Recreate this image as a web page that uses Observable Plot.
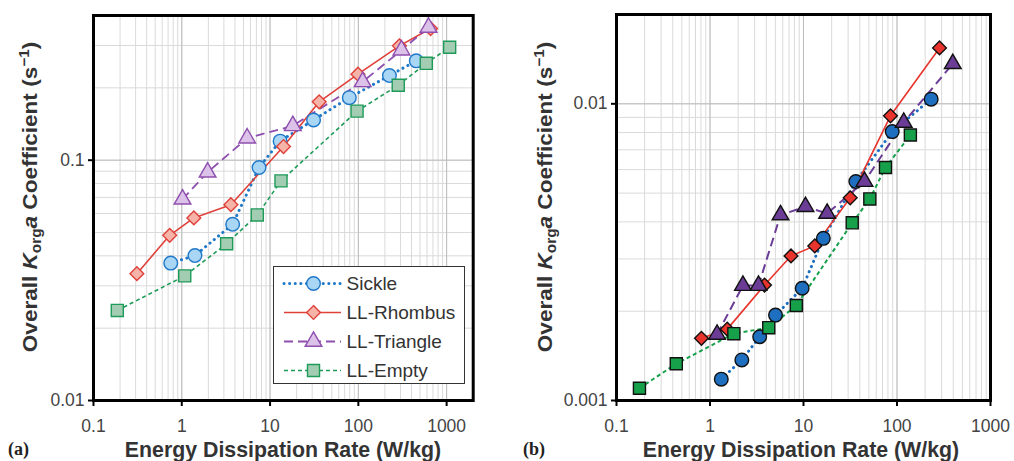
<!DOCTYPE html>
<html><head><meta charset="utf-8">
<script src="https://cdn.jsdelivr.net/npm/d3@7"></script>
<script src="https://cdn.jsdelivr.net/npm/@observablehq/plot@0.6"></script>
<style>
body{margin:0;background:#fff;font-family:"Liberation Sans",Arial,sans-serif;}
#wrap{position:relative;width:1014px;height:461px;overflow:hidden;background:#fff;}
.panel{position:absolute;top:0;}
.ylab{position:absolute;font-weight:bold;font-size:20.5px;color:#333;white-space:nowrap;transform:translate(-50%,-50%) rotate(-90deg) scale(1.1,1);line-height:1;}
.ylab sub{font-size:0.68em;vertical-align:-0.3em;line-height:0;}
.ylab sup{font-size:0.68em;vertical-align:0.55em;line-height:0;}
.xlab{position:absolute;font-weight:bold;font-size:20.5px;color:#333;white-space:nowrap;transform:translate(-50%,-50%) scale(1.04,1.05);line-height:1;}
.plab{position:absolute;font-family:"Liberation Serif","Times New Roman",serif;font-weight:bold;font-size:18px;color:#222;transform:translate(0,-50%);line-height:1;}
#legend{position:absolute;left:273px;top:266px;width:190px;height:116px;border:1.5px solid #333;background:#fff;}
</style>
</head><body>
<div id="wrap"></div>
<script>
// ---------- data ----------
const seriesNames = ["Sickle","LL-Rhombus","LL-Triangle","LL-Empty"];
const xTicks = [0.1,1,10,100,1000];
const aYTicks = [0.01,0.1];
const bYTicks = [0.001,0.01];
// Panel (a)
const aSickleX   = [0.75,1.41,3.77,7.5,13.0,31.1,79,225,453];
const aSickleY   = [0.0373,0.0401,0.0541,0.0932,0.120,0.147,0.182,0.225,0.259];
const aRhombusX  = [0.31,0.73,1.37,3.6,14.2,36,99,292,658];
const aRhombusY  = [0.0337,0.0487,0.0575,0.0653,0.114,0.175,0.228,0.299,0.353];
const aTriangleX = [1.02,1.96,5.5,18.1,112,308,624];
const aTriangleY = [0.0688,0.0891,0.1235,0.139,0.212,0.287,0.357];
const aEmptyX    = [0.186,1.08,3.22,7.17,13.3,96.7,283,588,1082];
const aEmptyY    = [0.0237,0.033,0.0449,0.0592,0.082,0.160,0.205,0.253,0.295];
// Panel (b)
const bSickleX   = [1.32,2.19,3.40,5.02,9.68,16.3,36.3,88.9,232];
const bSickleY   = [0.00118,0.00137,0.00164,0.00194,0.00239,0.00352,0.00547,0.00806,0.01037];
const bRhombusX  = [0.81,1.53,3.83,7.35,13.2,31.6,85.2,285];
const bRhombusY  = [0.00162,0.00174,0.00245,0.00307,0.00332,0.00482,0.00911,0.01543];
const bTriangleX = [1.19,2.25,3.30,5.68,10.5,17.9,44.9,118,395];
const bTriangleY = [0.00167,0.00244,0.00244,0.00422,0.0045,0.00427,0.00547,0.00865,0.01365];
const bEmptyX    = [0.176,0.436,1.80,4.25,8.38,33.2,51.2,75.3,139];
const bEmptyY    = [0.0011,0.00133,0.00168,0.00176,0.00209,0.00397,0.00478,0.0061,0.00785];

// ---------- styles ----------
const styleA = [
  {symbol:"circle",  r:6.8, line:"#1f78c8", fill:"#a9d6f5", stroke:"#1f78c8", sw:3,   dash:"0.1,5.5", cap:"round"},
  {symbol:"diamond2",r:6.2, line:"#e0403a", fill:"#f6b4a8", stroke:"#e0403a", sw:1.6, dash:null, cap:"butt"},
  {symbol:"triangle",r:6.2, line:"#8e4fae", fill:"#dcc2e8", stroke:"#8e4fae", sw:1.8, dash:"9,5", cap:"butt"},
  {symbol:"square",  r:6.8, line:"#1e9b58", fill:"#a3cdb2", stroke:"#1e9b58", sw:1.6, dash:"4,3", cap:"butt"}
];
const styleB = [
  {symbol:"circle",  r:6.8, line:"#1f6fc0", fill:"#1f6fc0", stroke:"#111", sw:3,   dash:"0.1,5.5", cap:"round"},
  {symbol:"diamond2",r:6.2, line:"#e8342c", fill:"#e8342c", stroke:"#111", sw:1.6, dash:null, cap:"butt"},
  {symbol:"triangle",r:6.2, line:"#6b3d96", fill:"#6b3d96", stroke:"#111", sw:2,   dash:"9,5", cap:"butt"},
  {symbol:"square",  r:6.8, line:"#17a04a", fill:"#17a04a", stroke:"#111", sw:2,   dash:"4,3", cap:"butt"}
];

const toRows = (X, Y) => X.map((x, i) => ({x, y: Y[i]}));
const aSeries = [toRows(aSickleX,aSickleY), toRows(aRhombusX,aRhombusY), toRows(aTriangleX,aTriangleY), toRows(aEmptyX,aEmptyY)];
const bSeries = [toRows(bSickleX,bSickleY), toRows(bRhombusX,bRhombusY), toRows(bTriangleX,bTriangleY), toRows(bEmptyX,bEmptyY)];

function makePanel({xDomain, yDomain, ml, mr, mt, mb, series, styles, yTicks}) {
  const xMinor = d3.scaleLog().domain(xDomain).ticks();
  const yMinor = d3.scaleLog().domain(yDomain).ticks();
  const fmt = d => String(d);
  const marks = [
    Plot.gridX(xMinor, {stroke:"#dadada", strokeOpacity:1, strokeWidth:1}),
    Plot.gridY(yMinor, {stroke:"#dadada", strokeOpacity:1, strokeWidth:1}),
    Plot.gridX(xTicks, {stroke:"#bdbdbd", strokeOpacity:1, strokeWidth:1}),
    Plot.gridY(yTicks, {stroke:"#bdbdbd", strokeOpacity:1, strokeWidth:1})
  ];
  series.forEach((rows, i) => {
    const s = styles[i];
    marks.push(Plot.line(rows, {x:"x", y:"y", stroke:s.line, strokeWidth:s.sw,
      strokeDasharray:s.dash, strokeLinecap:s.cap}));
  });
  series.forEach((rows, i) => {
    const s = styles[i];
    marks.push(Plot.dot(rows, {x:"x", y:"y", symbol:s.symbol, r:s.r, fill:s.fill,
      fillOpacity:1, stroke:s.stroke, strokeWidth:1.4}));
  });
  marks.push(
    Plot.frame({stroke:"#000", strokeWidth:3}),
    Plot.axisX(xTicks, {tickFormat:fmt, tickSize:6, tickPadding:13, fontSize:17.5, label:null,
      stroke:"#000", fill:"#444", strokeWidth:2}),
    Plot.axisY(yTicks, {tickFormat:fmt, tickSize:5, tickPadding:4, fontSize:17.5, label:null,
      stroke:"#000", fill:"#444", strokeWidth:2})
  );
  return Plot.plot({
    width: 507, height: 461,
    marginLeft: ml, marginRight: mr, marginTop: mt, marginBottom: mb,
    x: {type:"log", domain:xDomain},
    y: {type:"log", domain:yDomain},
    style: {fontFamily:"Liberation Sans, Arial, sans-serif", background:"transparent", overflow:"visible"},
    marks
  });
}

const wrap = document.getElementById("wrap");

const pa = makePanel({xDomain:[0.1,2000], yDomain:[0.01,0.4], ml:93, mr:507-472.7, mt:15, mb:61,
  series:aSeries, styles:styleA, yTicks:aYTicks});
pa.classList.add("panel"); pa.style.left = "0px";
wrap.appendChild(pa);

const pb = makePanel({xDomain:[0.1,1000], yDomain:[0.001,0.02], ml:616-507, mr:1014-990, mt:14, mb:61,
  series:bSeries, styles:styleB, yTicks:bYTicks});
pb.classList.add("panel"); pb.style.left = "507px";
wrap.appendChild(pb);

// legend (panel a)
const legendDiv = document.createElement("div");
legendDiv.id = "legend";
const legMarks = [];
seriesNames.forEach((name, i) => {
  const s = styleA[i];
  legMarks.push(Plot.ruleY([name], {y:d=>d, x1:10, x2:67, stroke:s.line, strokeWidth:s.sw,
    strokeDasharray:s.dash, strokeLinecap:s.cap}));
  legMarks.push(Plot.dot([name], {y:d=>d, x:39, symbol:s.symbol, r:s.r, fill:s.fill, stroke:s.stroke, strokeWidth:1.4}));
  legMarks.push(Plot.text([name], {y:d=>d, x:72, text:d=>d, textAnchor:"start", fontSize:19, fill:"#333"}));
});
const leg = Plot.plot({
  width:190, height:116, margin:0,
  x:{type:"identity"},
  y:{type:"point", domain:seriesNames, range:[15,103], padding:0},
  style:{fontFamily:"Liberation Sans, Arial, sans-serif", background:"transparent", overflow:"visible"},
  axis:null,
  marks:legMarks
});
legendDiv.appendChild(leg);
wrap.appendChild(legendDiv);

// text labels
function addHTML(cls, html, left, top) {
  const d = document.createElement("div");
  d.className = cls; d.innerHTML = html;
  d.style.left = left + "px"; d.style.top = top + "px";
  wrap.appendChild(d);
}
const yTitle = 'Overall <i>K</i><sub>org</sub><i>a</i> Coefficient (s<sup>\u22121</sup>)';
const xTitle = 'Energy Dissipation Rate (W/kg)';
addHTML("ylab", yTitle, 30, 197);
addHTML("ylab", yTitle, 545, 197);
addHTML("xlab", xTitle, 283, 450);
addHTML("xlab", xTitle, 801, 450);
addHTML("plab", "(a)", 8, 449);
addHTML("plab", "(b)", 523, 449);
</script>
</body></html>
